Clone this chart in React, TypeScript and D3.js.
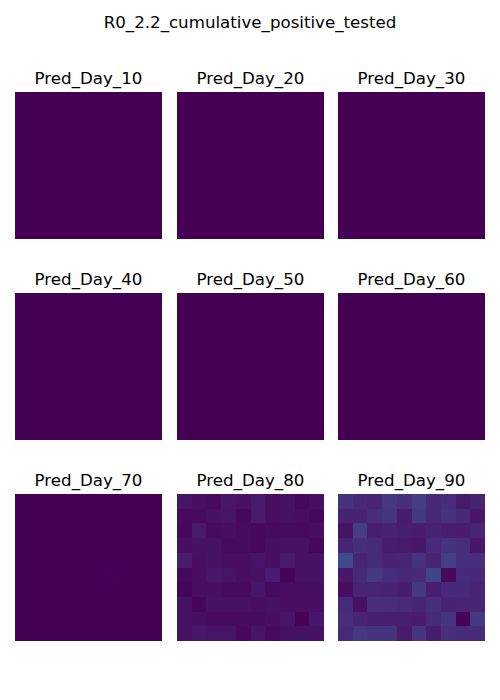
import React from "react";
import * as d3 from "d3";

const TITLE = "R0_2.2_cumulative_positive_tested";
const PANEL_TITLES = ["Pred_Day_10", "Pred_Day_20", "Pred_Day_30", "Pred_Day_40", "Pred_Day_50", "Pred_Day_60", "Pred_Day_70", "Pred_Day_80", "Pred_Day_90"];

const zeros: number[][] = Array.from({ length: 10 }, () => Array(10).fill(0));

const day70: number[][] = [
  [0, 0, 0, 0, 0, 0, 0, 0, 0, 0],
  [0, 0, 0, 0, 0, 0, 0, 0, 0, 0],
  [0, 0, 0, 0, 0, 0, 0, 0, 0, 0],
  [0, 0, 0, 0, 0, 0, 0, 0, 0, 0],
  [0, 0, 0, 0, 0, 0.002, 0, 0, 0, 0],
  [0, 0, 0, 0, 0, 0, 0.004, 0, 0, 0],
  [0, 0, 0, 0, 0, 0, 0, 0, 0, 0],
  [0, 0, 0, 0, 0, 0, 0, 0, 0, 0],
  [0, 0, 0, 0, 0, 0, 0, 0, 0, 0],
  [0, 0, 0, 0, 0, 0, 0, 0, 0, 0],
];

const day80: number[][] = [
  [0.052, 0.038, 0.03, 0.06, 0.045, 0.068, 0.038, 0.045, 0.022, 0.038],
  [0.03, 0.03, 0.045, 0.052, 0.022, 0.068, 0.038, 0.045, 0.038, 0.022],
  [0.022, 0.068, 0.03, 0.038, 0.03, 0.022, 0.03, 0.03, 0.03, 0.038],
  [0.038, 0.045, 0.045, 0.03, 0.03, 0.022, 0.038, 0.045, 0.045, 0.022],
  [0.082, 0.038, 0.045, 0.038, 0.038, 0.052, 0.038, 0.068, 0.045, 0.045],
  [0.022, 0.038, 0.06, 0.052, 0.038, 0.045, 0.075, 0.008, 0.045, 0.045],
  [0.015, 0.038, 0.038, 0.03, 0.03, 0.06, 0.03, 0.038, 0.038, 0.038],
  [0.045, 0.015, 0.045, 0.045, 0.045, 0.038, 0.045, 0.038, 0.038, 0.038],
  [0.045, 0.038, 0.03, 0.03, 0.03, 0.03, 0.038, 0.052, 0.008, 0.06],
  [0.045, 0.06, 0.052, 0.052, 0.022, 0.052, 0.03, 0.045, 0.045, 0.045],
];

const day90: number[][] = [
  [0.145, 0.11, 0.1, 0.16, 0.135, 0.18, 0.11, 0.128, 0.068, 0.094],
  [0.094, 0.094, 0.128, 0.153, 0.068, 0.17, 0.11, 0.145, 0.11, 0.06],
  [0.05, 0.187, 0.085, 0.094, 0.085, 0.077, 0.094, 0.085, 0.077, 0.1],
  [0.1, 0.128, 0.12, 0.077, 0.068, 0.06, 0.12, 0.145, 0.128, 0.06],
  [0.225, 0.1, 0.12, 0.094, 0.1, 0.145, 0.1, 0.187, 0.135, 0.135],
  [0.06, 0.11, 0.17, 0.135, 0.11, 0.12, 0.205, 0.025, 0.12, 0.11],
  [0.034, 0.1, 0.1, 0.094, 0.077, 0.17, 0.085, 0.11, 0.11, 0.1],
  [0.12, 0.042, 0.135, 0.128, 0.12, 0.1, 0.135, 0.094, 0.1, 0.1],
  [0.128, 0.1, 0.085, 0.085, 0.085, 0.077, 0.12, 0.153, 0.008, 0.17],
  [0.12, 0.16, 0.145, 0.145, 0.068, 0.153, 0.077, 0.135, 0.12, 0.12],
];

const GRIDS = [zeros, zeros, zeros, zeros, zeros, zeros, day70, day80, day90];

const W = 500;
const H = 700;
const COL_X = [15, 177, 338];
const ROW_Y = [92, 293, 494];
const SIZE = 147;

export default function App() {
  const color = d3.scaleSequential(d3.interpolateViridis).domain([0, 1]);
  const idx = d3.range(10);
  const band = d3.scaleBand<number>().domain(idx).range([0, SIZE]).padding(0);
  return (
    <svg width={W} height={H} style={{ position: "absolute", left: 0, top: 0, background: "#fff" }} fontFamily="DejaVu Sans">
      <text x={W / 2} y={28} textAnchor="middle" fontSize={16.67}>{TITLE}</text>
      {GRIDS.map((grid, p) => {
        const gx = COL_X[p % 3];
        const gy = ROW_Y[Math.floor(p / 3)];
        return (
          <g key={p} transform={`translate(${gx},${gy})`}>
            <text x={SIZE / 2} y={-8} textAnchor="middle" fontSize={16.67}>{PANEL_TITLES[p]}</text>
            <g shapeRendering="crispEdges">
              {grid.map((row, r) =>
                row.map((v, c) => (
                  <rect key={`${r}-${c}`} x={band(c)} y={band(r)} width={band.bandwidth()} height={band.bandwidth()} fill={color(v)} />
                ))
              )}
            </g>
          </g>
        );
      })}
    </svg>
  );
}
